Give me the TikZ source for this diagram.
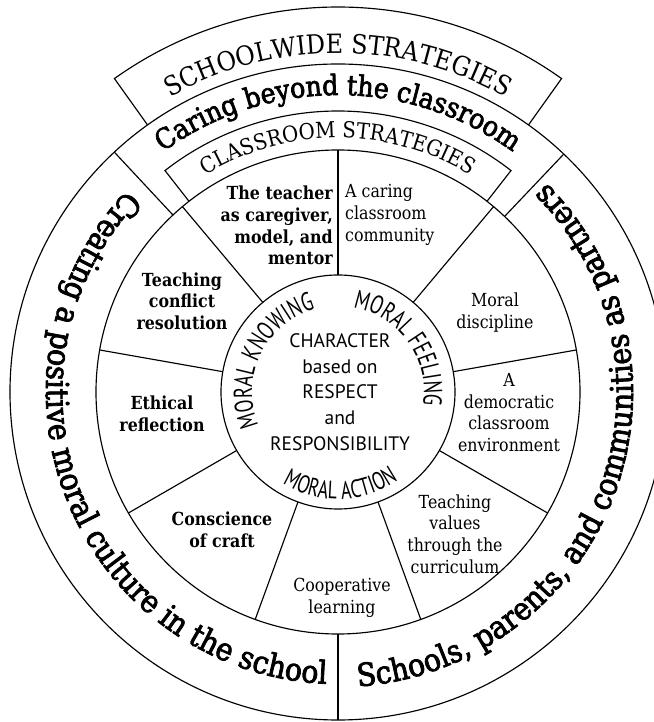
\documentclass[tikz,border=0pt]{standalone}
\usepackage{fontspec}
\usetikzlibrary{decorations.text}
\setmainfont{DejaVu Serif}
\newfontfamily\bandfont[FakeStretch=0.9]{DejaVu Serif}
\newfontfamily\ringfont[FakeStretch=0.9,FakeBold=2.5]{DejaVu Serif}
\newfontfamily\labelfont[FakeStretch=0.88]{DejaVu Serif}
\newfontfamily\corefont{PT Sans}
\newfontfamily\virtuefont[FakeStretch=0.72]{PT Sans}
\tikzset{
  rim/.style={line width=1.15pt, black},
  arctext/.style 2 args={decorate, decoration={text along path, text align=center, text={|#1|#2}}},
  seg/.style={inner sep=0pt, align=center, font=\labelfont\fontsize{18}{21.7}\selectfont},
  segbold/.style={seg, font=\labelfont\bfseries\fontsize{18}{21.7}\selectfont},
  core/.style={inner sep=0pt, align=center, font=\corefont\fontsize{19.5}{25.8}\selectfont}
}

\begin{document}
\begin{tikzpicture}[x=1pt,y=1pt]
  \useasboundingbox (-338,-330) rectangle (315,392);
  % rings, tabs and spokes
  \draw[rim] (0,0) circle[radius=117] (0,0) circle[radius=242] (0,0) circle[radius=328];
  \draw[rim] (125.5:328) -- (125.5:385) arc[start angle=125.5, end angle=54.5, radius=385] -- (54.5:328);
  \draw[rim] (128:242) -- (128:281) arc[start angle=128, end angle=52, radius=281] -- (52:242);
  \foreach \a in {10,50,...,330}
    \draw[rim] (\a:117) -- (\a:242);
  \foreach \a in {46.5,133,270}
    \draw[rim] (\a:242) -- (\a:328);

  % curved headings
  \path[arctext={\bandfont\fontsize{26.5}{26.5}\selectfont}{SCHOOLWIDE STRATEGIES}]
    (140:339) arc[start angle=140, end angle=40, radius=339];
  \path[arctext={\ringfont\fontsize{28}{28}\selectfont}{Caring beyond the classroom}]
    (140:297) arc[start angle=140, end angle=40, radius=297];
  \path[arctext={\bandfont\fontsize{22}{22}\selectfont}{CLASSROOM STRATEGIES}]
    (140:254) arc[start angle=140, end angle=40, radius=254];
  \path[arctext={\ringfont\fontsize{31.5}{31.5}\selectfont}{Creating a positive moral culture in the school}]
    (118:292) arc[start angle=118, end angle=286, radius=292];
  \path[arctext={\ringfont\fontsize{31.5}{31.5}\selectfont}{Schools, parents, and communities as partners}]
    (256:295) arc[start angle=256, end angle=423, radius=295];
  \path[arctext={\virtuefont\fontsize{26}{26}\selectfont}{MORAL KNOWING}]
    (230:86) arc[start angle=230, end angle=78, radius=86];
  \path[arctext={\virtuefont\fontsize{26}{26}\selectfont}{MORAL FEELING}]
    (110:86) arc[start angle=110, end angle=-39, radius=86];
  \path[arctext={\virtuefont\fontsize{25}{25}\selectfont}{MORAL ACTION}]
    (200:107) arc[start angle=200, end angle=343, radius=107];

  % segment labels
  \node[segbold, anchor=east, align=right] (teacher) at (-5,166.5) {The teacher\\as caregiver,\\model, and\\mentor};
  \node[seg, anchor=west, align=left] (community) at (7,177) {A caring\\classroom\\community};
  \node[seg] (discipline) at (157,79.5) {Moral\\discipline};
  \node[seg] (democracy) at (171,-20.5) {A\\democratic\\classroom\\environment};
  \node[seg] (curriculum) at (117,-142) {Teaching\\values\\through the\\curriculum};
  \node[seg] (cooperation) at (4,-205.5) {Cooperative\\learning};
  \node[segbold] (craft) at (-116,-138) {Conscience\\of craft};
  \node[segbold] (reflection) at (-176,-21.5) {Ethical\\reflection};
  \node[segbold] (conflict) at (-156,91) {Teaching\\conflict\\resolution};
  \node[core] (character) at (2,0) {CHARACTER\\based on\\RESPECT\\and\\RESPONSIBILITY};
\end{tikzpicture}
\end{document}
